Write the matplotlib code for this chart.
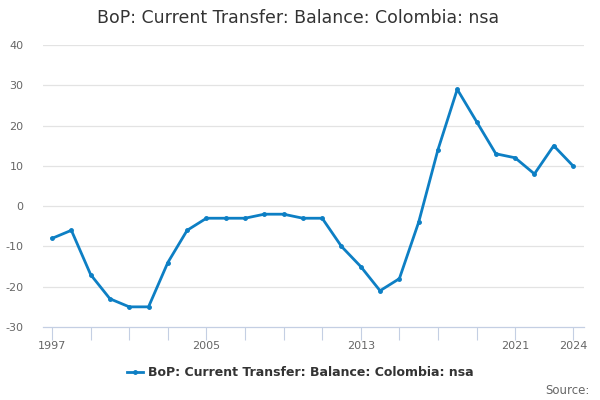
import matplotlib
matplotlib.use("Agg")
import matplotlib.pyplot as plt
from matplotlib.lines import Line2D

years = list(range(1997, 2025))
values = [-8, -6, -17, -23, -25, -25, -14, -6, -3, -3, -3, -2, -2, -3, -3,
          -10, -15, -21, -18, -4, 14, 29, 21, 13, 12, 8, 15, 10]
tick_years = list(range(1997, 2022, 2)) + [2024]
label_years = [1997, 2005, 2013, 2021, 2024]
yticks = [-30, -20, -10, 0, 10, 20, 30, 40]

LINE = "#0d7fc4"; TXT = "#666666"; GRID = "#e3e3e3"; AXIS = "#c4cfe3"

fig = plt.figure(figsize=(6, 4), dpi=100, facecolor="white")
ax = fig.add_axes([43/600, 1 - 327/400, (584 - 43)/600, (327 - 45)/400])

ax.plot(years, values, color=LINE, linewidth=2, marker="o", markersize=2.5)

ax.set_xlim(1996.53, 2024.57)
ax.set_ylim(-30, 40)
ax.set_yticks(yticks)
ax.set_yticklabels([str(v) for v in yticks], fontsize=8, color=TXT)
ax.tick_params(axis="y", length=0, pad=14)
for v in yticks[1:]:
    ax.axhline(v, color=GRID, linewidth=0.9, zorder=0)

ax.set_xticks(tick_years)
ax.set_xticklabels([str(y) if y in label_years else "" for y in tick_years],
                   fontsize=8, color=TXT)
ax.tick_params(axis="x", length=9, width=0.8, color=AXIS, pad=1)

for s in ["top", "right", "left"]:
    ax.spines[s].set_visible(False)
ax.spines["bottom"].set_color(AXIS)
ax.spines["bottom"].set_linewidth(0.9)

fig.text(0.497, 0.955, "BoP: Current Transfer: Balance: Colombia: nsa",
         ha="center", va="center", fontsize=12.5, color="#333333")

handle = Line2D([], [], color=LINE, linewidth=2, marker="o", markersize=2.5)
fig.legend([handle], ["BoP: Current Transfer: Balance: Colombia: nsa"],
           loc="center", bbox_to_anchor=(0.5, 1 - 373/400), frameon=False,
           prop={"size": 9, "weight": "bold"}, labelcolor="#333333",
           handlelength=1.3, handletextpad=0.4)

fig.text(0.982, 1 - 390/400, "Source:", ha="right", va="center",
         fontsize=8.5, color=TXT)

fig.savefig("out.png", dpi=100, facecolor="white")
